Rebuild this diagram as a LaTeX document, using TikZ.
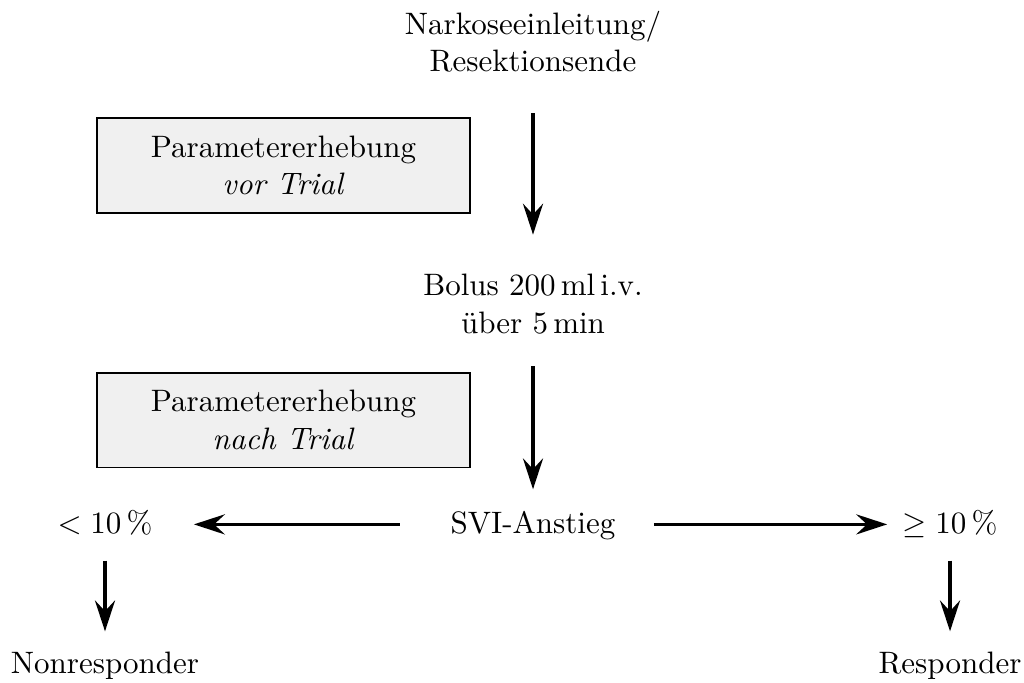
\documentclass[tikz,border=0pt]{standalone}
\usetikzlibrary{arrows.meta}
\tikzset{
  txt/.style={inner sep=0pt, align=center},
  rowtxt/.style={inner sep=0pt, text height=7.5pt, text depth=1.94pt, anchor=base},
  parbox/.style={draw=black, line width=0.6pt, fill=black!6, minimum width=120.3pt, minimum height=30.6pt, inner sep=0pt, align=center},
  arr/.style={line width=1pt, -{Stealth[length=10pt, width=6.5pt, inset=3.5pt]}}
}
\begin{document}
\begin{tikzpicture}[x=0.32258pt, y=-0.32258pt]
\useasboundingbox (0,0) rectangle (1024,682);
\node[txt] (start) at (533,42) {Narkoseeinleitung/\\Resektionsende};
\node[txt] (bolus) at (533,304) {Bolus 200\,ml\,i.v.\\über 5\,min};
\node[rowtxt] (svi) at (533,533) {SVI-Anstieg};
\node[rowtxt] (lt) at (105,533) {$<10\,\%$};
\node[rowtxt] (ge) at (950,533) {$\geq 10\,\%$};
\node[txt, anchor=base] (non) at (105,673) {Nonresponder};
\node[txt, anchor=base] (resp) at (950,673) {Responder};
\node[parbox] (box1) at (283.5,165.5) {Parametererhebung\\\textit{vor Trial}};
\node[parbox] (box2) at (283.5,420) {Parametererhebung\\\textit{nach Trial}};
\draw[arr, shorten <=12.9pt, shorten >=12.6pt] (start) -- (bolus);
\draw[arr, shorten <=10.3pt, shorten >=6.4pt] (bolus) -- (svi);
\draw[arr, shorten <=16.3pt, shorten >=13.2pt] (svi) -- (lt);
\draw[arr, shorten <=12.2pt, shorten >=4.8pt] (svi) -- (ge);
\draw[arr, shorten <=6.8pt, shorten >=6.3pt] (lt) -- (non);
\draw[arr, shorten <=6.8pt, shorten >=6.3pt] (ge) -- (resp);
\end{tikzpicture}
\end{document}
